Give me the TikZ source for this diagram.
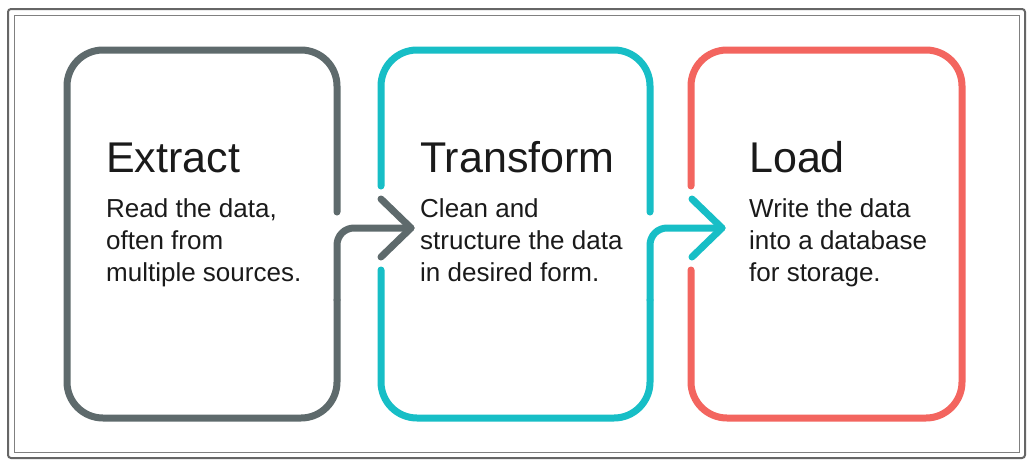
\documentclass[tikz,border=0pt]{standalone}
\usepackage{fontspec}
\setmainfont{Liberation Sans}
\definecolor{exgray}{HTML}{5E6A6C}
\definecolor{trteal}{HTML}{17BEC6}
\definecolor{ldred}{HTML}{F3655F}
\definecolor{txt}{HTML}{1A1A1A}
\begin{document}
\begin{tikzpicture}[x=1pt,y=-1pt,
  stroke/.style={line width=7pt,line cap=round,line join=round},
  boxpath/.style={stroke,rounded corners=36pt},
  bendpath/.style={stroke,rounded corners=17pt},
  heading/.style={anchor=base west,inner sep=0pt,text=txt,font=\fontsize{43}{50}\selectfont},
  bodyline/.style={anchor=base west,inner sep=0pt,text=txt,font=\fontsize{26}{32}\selectfont}]
\useasboundingbox (0,0) rectangle (1033,466);
\fill[white] (0,0) rectangle (1033,466);
% frame
\draw[line width=2pt,color=black!60,rounded corners=3pt] (8,9) rectangle (1025,458);
\draw[line width=1pt,color=black!50] (14,15) rectangle (1019,452);
% coordinates
\coordinate (e1) at (337,212);
\coordinate (e2) at (337,50);
\coordinate (e3) at (67,50);
\coordinate (e4) at (67,418);
\coordinate (e5) at (337,418);
\coordinate (e6) at (337,300);
\coordinate (e7) at (337,228);
\coordinate (etip) at (411,228);
\coordinate (eup) at (381,199);
\coordinate (edn) at (381,257);
\coordinate (t1) at (381,186);
\coordinate (t2) at (381,50);
\coordinate (t3) at (650,50);
\coordinate (t4) at (650,212);
\coordinate (t5) at (381,270);
\coordinate (t6) at (381,418);
\coordinate (t7) at (650,418);
\coordinate (t8) at (650,300);
\coordinate (t9) at (650,228);
\coordinate (ttip) at (722,228);
\coordinate (tup) at (692,199);
\coordinate (tdn) at (692,257);
\coordinate (l1) at (691,186);
\coordinate (l2) at (691,50);
\coordinate (l3) at (962,50);
\coordinate (l4) at (962,418);
\coordinate (l5) at (691,418);
\coordinate (l6) at (691,270);
% Extract
\draw[boxpath,exgray] (e1) -- (e2) -- (e3) -- (e4) -- (e5) -- (e6);
\draw[bendpath,exgray] (e6) -- (e7) -- (etip);
\draw[stroke,exgray] (eup) -- (etip) -- (edn);
% Transform
\draw[boxpath,trteal] (t1) -- (t2) -- (t3) -- (t4);
\draw[boxpath,trteal] (t5) -- (t6) -- (t7) -- (t8);
\draw[bendpath,trteal] (t8) -- (t9) -- (ttip);
\draw[stroke,trteal] (tup) -- (ttip) -- (tdn);
% Load
\draw[boxpath,ldred] (l1) -- (l2) -- (l3) -- (l4) -- (l5) -- (l6);
% texts
\node[heading] (eh) at (106,172) {Extract};
\node[bodyline] (eb1) at (106,217) {Read the data,};
\node[bodyline] (eb2) at (106,249) {often from};
\node[bodyline] (eb3) at (106,281) {multiple sources.};
\node[heading] (th) at (420,172) {Transform};
\node[bodyline] (tb1) at (420,217) {Clean and};
\node[bodyline] (tb2) at (420,249) {structure the data};
\node[bodyline] (tb3) at (420,281) {in desired form.};
\node[heading] (lh) at (749,172) {Load};
\node[bodyline] (lb1) at (749,217) {Write the data};
\node[bodyline] (lb2) at (749,249) {into a database};
\node[bodyline] (lb3) at (749,281) {for storage.};
\end{tikzpicture}
\end{document}
